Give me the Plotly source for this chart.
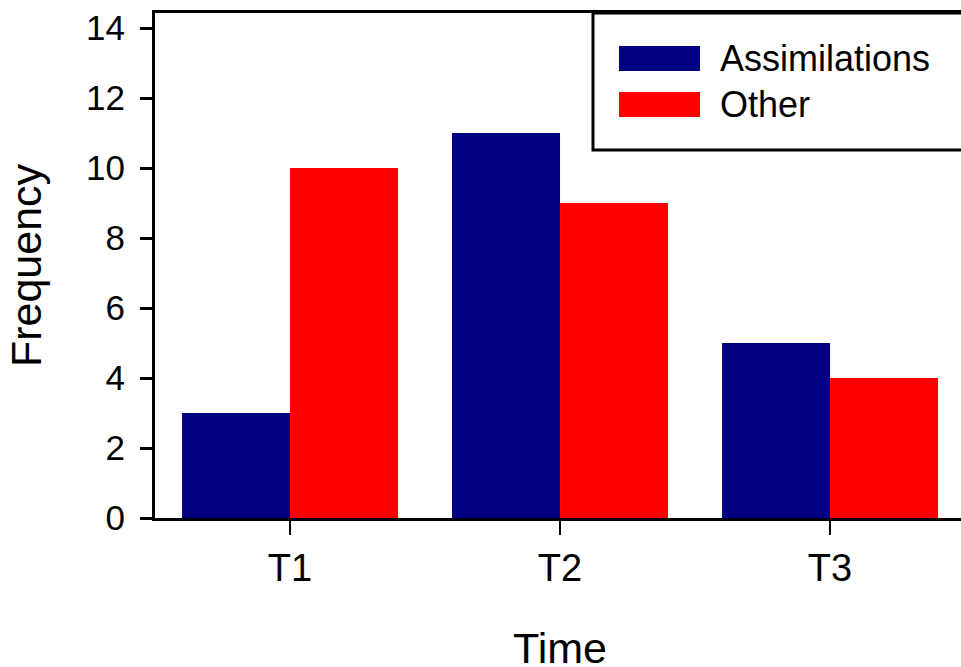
import plotly.graph_objects as go

categories = ["T1", "T2", "T3"]
assimilations = [3, 11, 5]
other = [10, 9, 4]
series_names = ["Assimilations", "Other"]
series_colors = ["#000080", "#FF0000"]
y_ticks = [0, 2, 4, 6, 8, 10, 12, 14]
x_title = "Time"
y_title = "Frequency"

FONT = "Arial, Liberation Sans, sans-serif"

fig = go.Figure()
for name, vals, col in zip(series_names, [assimilations, other], series_colors):
    fig.add_trace(go.Bar(x=categories, y=vals, name=name, marker_color=col,
                         marker_line_width=0, showlegend=False))

W, H = 961, 667
L, R, T, B = 155, 0, 13, 149
pw, ph = W - L - R, H - T - B

def px(x):
    return (x - L) / pw

def py(y):
    return (H - B - y) / ph

shapes = [
    dict(type="rect", xref="paper", yref="paper", x0=px(593), x1=1.2, y0=py(150), y1=1.0,
         line=dict(color="black", width=3), fillcolor="rgba(0,0,0,0)"),
]
annotations = []
sw_y = [(46, 71), (92, 117)]
for (y0, y1), name, col in zip(sw_y, series_names, series_colors):
    shapes.append(dict(type="rect", xref="paper", yref="paper", x0=px(619), x1=px(700),
                       y0=py(y1), y1=py(y0), line=dict(width=0), fillcolor=col))
    annotations.append(dict(xref="paper", yref="paper", x=px(718), y=py((y0 + y1) / 2),
                            text=name, showarrow=False, xanchor="left", yanchor="middle",
                            font=dict(size=36, color="black", family=FONT)))
annotations.append(dict(xref="paper", yref="paper", x=px(560), y=py(647.5),
                        text=x_title, showarrow=False, xanchor="center", yanchor="middle",
                        font=dict(size=43, color="black", family=FONT)))

fig.update_layout(
    width=W, height=H,
    margin=dict(l=L, r=R, t=T, b=B),
    paper_bgcolor="white", plot_bgcolor="white",
    font=dict(family=FONT, color="black", size=35),
    barmode="group", bargap=0.2, bargroupgap=0,
    shapes=shapes, annotations=annotations,
    showlegend=False,
)
fig.update_xaxes(
    range=[-0.5, 2.485], showline=True, linecolor="black", linewidth=3, mirror=True,
    ticks="outside", ticklen=14, tickwidth=2, tickcolor="black",
    showgrid=False, zeroline=False, tickfont=dict(size=38), automargin=False,
)
fig.update_yaxes(
    range=[0, 14.43], tickvals=y_ticks, showline=True, linecolor="black", linewidth=3,
    ticks="outside", ticklen=12, tickwidth=3, tickcolor="black",
    showgrid=False, zeroline=False, tickfont=dict(size=35), ticklabelstandoff=8,
    title=dict(text=y_title, font=dict(size=43), standoff=32),
)

fig.write_html("out.html", config={"displayModeBar": False},
               post_script="document.body.style.margin='0';document.body.style.overflow='hidden';")
